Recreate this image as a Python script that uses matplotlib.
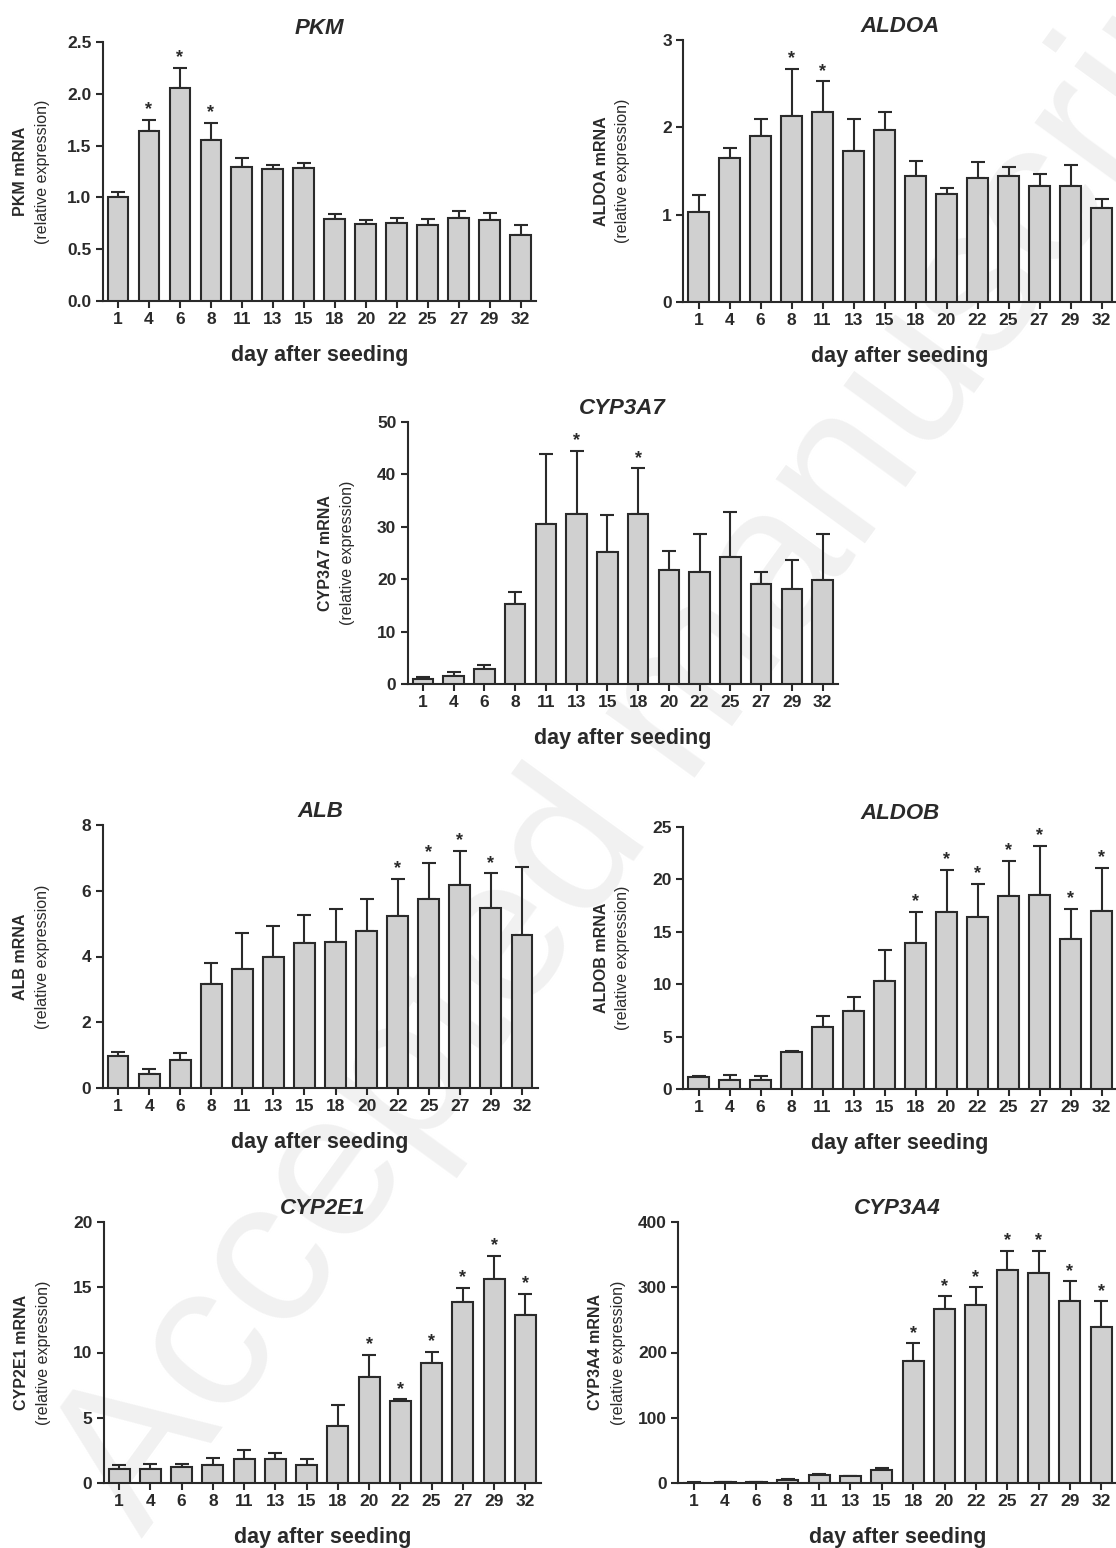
import matplotlib
matplotlib.use("Agg")
import matplotlib.pyplot as plt
import numpy as np

plt.rcParams['font.family'] = ['Liberation Sans', 'DejaVu Sans']

days = ['1', '4', '6', '8', '11', '13', '15', '18', '20', '22', '25', '27', '29', '32']

pkm_mean = [1.00, 1.64, 2.06, 1.55, 1.29, 1.27, 1.285, 0.79, 0.74, 0.75, 0.735, 0.80, 0.78, 0.64]
pkm_sem = [0.05, 0.11, 0.19, 0.17, 0.09, 0.04, 0.045, 0.05, 0.04, 0.05, 0.055, 0.07, 0.07, 0.095]
pkm_stars = ['4', '6', '8']

aldoa_mean = [1.03, 1.65, 1.90, 2.13, 2.18, 1.73, 1.97, 1.44, 1.24, 1.42, 1.445, 1.33, 1.33, 1.08]
aldoa_sem = [0.19, 0.11, 0.20, 0.54, 0.35, 0.37, 0.21, 0.18, 0.06, 0.18, 0.105, 0.14, 0.24, 0.10]
aldoa_stars = ['8', '11']

cyp3a7_mean = [1.0, 1.6, 2.9, 15.3, 30.5, 32.4, 25.2, 32.4, 21.7, 21.4, 24.3, 19.1, 18.2, 19.8]
cyp3a7_sem = [0.4, 0.6, 0.8, 2.3, 13.3, 12.1, 7.1, 8.8, 3.6, 7.2, 8.5, 2.2, 5.4, 8.9]
cyp3a7_stars = ['13', '18']

alb_mean = [0.98, 0.42, 0.84, 3.15, 3.61, 3.98, 4.41, 4.45, 4.77, 5.24, 5.75, 6.18, 5.47, 4.65]
alb_sem = [0.12, 0.16, 0.21, 0.66, 1.09, 0.96, 0.85, 0.99, 0.99, 1.12, 1.10, 1.03, 1.06, 2.07]
alb_stars = ['22', '25', '27', '29']

aldob_mean = [1.1, 0.86, 0.86, 3.5, 5.88, 7.47, 10.3, 13.9, 16.9, 16.45, 18.4, 18.55, 14.3, 16.96]
aldob_sem = [0.1, 0.47, 0.38, 0.1, 1.12, 1.27, 3.0, 3.0, 4.0, 3.15, 3.4, 4.65, 2.9, 4.14]
aldob_stars = ['18', '20', '22', '25', '27', '29', '32']

cyp2e1_mean = [1.07, 1.07, 1.2, 1.38, 1.83, 1.81, 1.40, 4.38, 8.1, 6.29, 9.22, 13.89, 15.67, 12.84]
cyp2e1_sem = [0.28, 0.36, 0.25, 0.51, 0.72, 0.46, 0.41, 1.58, 1.71, 0.13, 0.84, 1.09, 1.73, 1.66]
cyp2e1_stars = ['20', '22', '25', '27', '29', '32']

cyp3a4_mean = [0.5, 1.0, 1.0, 5.0, 11.7, 10.2, 20.4, 187.5, 266.7, 273.3, 326, 322, 279.4, 239]
cyp3a4_sem = [0.5, 0.5, 0.5, 1.6, 2.1, 1.0, 3.1, 26.5, 19.3, 26.7, 30, 34, 30.2, 39.4]
cyp3a4_stars = ['18', '20', '22', '25', '27', '29', '32']

W, H = 1116, 1548
fig = plt.figure(figsize=(W / 100, H / 100), dpi=100)

# faint watermark, kept behind the panels
fig.text(670 / W, 1 - 720 / H, 'Accepted manuscript', fontsize=150, color='#f1f1f1',
         rotation=54, ha='center', va='center', zorder=-1)


def panel(box, gene, mean, sem, stars, yticks, fmt):
    # box = left, top, right, bottom in pixels
    l, t, r, b = box
    ax = fig.add_axes([l / W, 1 - b / H, (r - l) / W, (b - t) / H])
    ax.set_facecolor('none')
    x = np.arange(len(days))
    ax.bar(x, mean, width=0.67, color='#d0d0d0', edgecolor='#2a2a2a', linewidth=1.5, zorder=3)
    ax.errorbar(x, mean, yerr=[np.zeros(len(sem)), sem], fmt='none', ecolor='#2a2a2a',
                elinewidth=1.5, capsize=5, capthick=1.5, zorder=2)
    for d in stars:
        i = days.index(d)
        ax.annotate('*', (i, mean[i] + sem[i]), xytext=(0, 1), textcoords='offset points',
                    ha='center', va='bottom', fontsize=13, fontweight='bold', color='#2a2a2a')
    ax.set_xlim(-0.5, len(days) - 0.5)
    ax.set_ylim(yticks[0], yticks[-1])
    ax.set_yticks(yticks)
    ax.set_yticklabels([fmt % v for v in yticks])
    ax.set_xticks(x)
    ax.set_xticklabels(days)
    for s in ['top', 'right']:
        ax.spines[s].set_visible(False)
    for s in ['left', 'bottom']:
        ax.spines[s].set_linewidth(1.5)
        ax.spines[s].set_color('#2a2a2a')
    ax.tick_params(axis='both', direction='out', length=5, width=1.5, color='#2a2a2a',
                   labelsize=12.5, pad=3)
    for lab in ax.get_xticklabels() + ax.get_yticklabels():
        lab.set_fontweight('bold')
        lab.set_color('#2a2a2a')
    ax.set_title(gene, fontsize=16, fontweight='bold', fontstyle='italic', pad=6, color='#2a2a2a')
    ax.set_xlabel('day after seeding', fontsize=15.5, fontweight='bold', labelpad=13, color='#2a2a2a')
    ax.text(-82 / (r - l), 0.5, gene + ' mRNA', transform=ax.transAxes, rotation=90,
            ha='center', va='center', fontsize=11.5, fontweight='bold', color='#2a2a2a')
    ax.text(-60 / (r - l), 0.5, '(relative expression)', transform=ax.transAxes, rotation=90,
            ha='center', va='center', fontsize=11.5, color='#2a2a2a')
    return ax


panel((102.5, 42, 536, 301), 'PKM', pkm_mean, pkm_sem, pkm_stars,
      [0.0, 0.5, 1.0, 1.5, 2.0, 2.5], '%.1f')
panel((683, 40, 1117, 302), 'ALDOA', aldoa_mean, aldoa_sem, aldoa_stars,
      [0, 1, 2, 3], '%d')
panel((407.5, 422, 838, 684), 'CYP3A7', cyp3a7_mean, cyp3a7_sem, cyp3a7_stars,
      [0, 10, 20, 30, 40, 50], '%d')
panel((102.5, 825, 537.5, 1088), 'ALB', alb_mean, alb_sem, alb_stars,
      [0, 2, 4, 6, 8], '%d')
panel((683, 827, 1117, 1089), 'ALDOB', aldob_mean, aldob_sem, aldob_stars,
      [0, 5, 10, 15, 20, 25], '%d')
panel((103.5, 1222, 541, 1483), 'CYP2E1', cyp2e1_mean, cyp2e1_sem, cyp2e1_stars,
      [0, 5, 10, 15, 20], '%d')
panel((678, 1222, 1117, 1483), 'CYP3A4', cyp3a4_mean, cyp3a4_sem, cyp3a4_stars,
      [0, 100, 200, 300, 400], '%d')

fig.savefig('out.png', dpi=100)
